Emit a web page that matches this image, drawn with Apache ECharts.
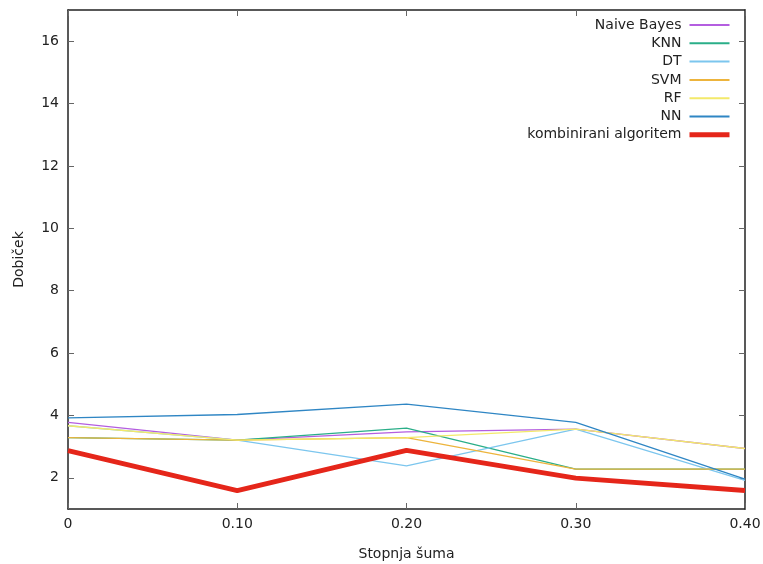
<!DOCTYPE html>
<html>
<head>
<meta charset="utf-8">
<script src="https://cdn.jsdelivr.net/npm/echarts@6/dist/echarts.min.js"></script>
<style>
html,body{margin:0;padding:0;background:#fff;}
#chart{width:763px;height:564px;}
</style>
</head>
<body>
<div id="chart"></div>
<script>
const xValues = [0, 0.1, 0.2, 0.3, 0.4];
const seriesNames = ['Naive Bayes', 'KNN', 'DT', 'SVM', 'RF', 'NN', 'kombinirani algoritem'];
const naiveBayes = [3.78, 3.21, 3.47, 3.56, 2.94];
const knn = [3.29, 3.21, 3.59, 2.28, 2.28];
const dt = [3.67, 3.21, 2.38, 3.56, 1.92];
const svm = [3.29, 3.21, 3.29, 2.28, 2.28];
const rf = [3.67, 3.21, 3.29, 3.56, 2.94];
const nn = [3.92, 4.03, 4.36, 3.78, 1.96];
const kombinirani = [2.87, 1.59, 2.88, 1.99, 1.59];
const yTicks = [2, 4, 6, 8, 10, 12, 14, 16];
const xTicks = [0, 0.1, 0.2, 0.3, 0.4];

const allData = [naiveBayes, knn, dt, svm, rf, nn, kombinirani];
const colors = ['#b45ee0', '#2aae88', '#7cc6ee', '#edb43c', '#f3e96a', '#2f86c4', '#e5261a'];
const widths = [1.3, 1.3, 1.3, 1.3, 1.3, 1.3, 5];
const legendWidths = [2, 2, 2, 2, 2, 2, 5];

const font = 'DejaVu Sans';
const fs = 14;
const series = allData.map((vals, i) => ({
  name: seriesNames[i],
  type: 'line',
  data: xValues.map((x, j) => [x, vals[j]]),
  showSymbol: false,
  symbol: 'none',
  lineStyle: { color: colors[i], width: widths[i] },
  itemStyle: { color: colors[i] },
  z: 2 + i,
  animation: false
}));

const chart = echarts.init(document.getElementById('chart'));
chart.setOption({
  animation: false,
  backgroundColor: '#fff',
  textStyle: { fontFamily: font },
  grid: { left: 68, right: 18, top: 10, bottom: 55, containLabel: false, outerBoundsMode: 'none' },
  legend: {
    data: seriesNames.map((n, i) => ({ name: n, lineStyle: { width: legendWidths[i], color: colors[i] } })),
    orient: 'vertical',
    right: 31,
    top: 18,
    padding: 0,
    align: 'right',
    itemWidth: 40,
    itemHeight: 14,
    itemGap: 4.3,
    itemStyle: { opacity: 0 },
    textStyle: { fontFamily: font, fontSize: fs, color: '#222', padding: [0, 3, 0, 0] }
  },
  xAxis: [{
    type: 'value', min: 0, max: 0.4, interval: 0.1,
    position: 'bottom',
    name: 'Stopnja šuma', nameLocation: 'middle', nameGap: 38,
    nameTextStyle: { fontFamily: font, fontSize: fs, color: '#222' },
    axisLine: { show: true, onZero: false, lineStyle: { color: '#222', width: 1.5 } },
    axisTick: { show: true, inside: true, length: 6, lineStyle: { color: '#666' } },
    axisLabel: { margin: 8, fontFamily: font, fontSize: fs, color: '#222',
      formatter: v => (v === 0 ? '0' : v.toFixed(2)) },
    splitLine: { show: false }
  }, {
    type: 'value', min: 0, max: 0.4, interval: 0.1,
    position: 'top',
    axisLine: { show: true, onZero: false, lineStyle: { color: '#222', width: 1.5 } },
    axisTick: { show: true, inside: true, length: 6, lineStyle: { color: '#666' } },
    axisLabel: { show: false },
    splitLine: { show: false }
  }],
  yAxis: [{
    type: 'value', min: 1, max: 17,
    position: 'left',
    name: 'Dobiček', nameLocation: 'middle', nameGap: 42,
    nameTextStyle: { fontFamily: font, fontSize: fs, color: '#222' },
    axisLine: { show: true, onZero: false, lineStyle: { color: '#222', width: 1.5 } },
    axisTick: { show: true, inside: true, length: 6, customValues: yTicks, lineStyle: { color: '#666' } },
    axisLabel: { margin: 9, fontFamily: font, fontSize: fs, color: '#222', customValues: yTicks },
    splitLine: { show: false }
  }, {
    type: 'value', min: 1, max: 17,
    position: 'right',
    axisLine: { show: true, onZero: false, lineStyle: { color: '#222', width: 1.5 } },
    axisTick: { show: true, inside: true, length: 6, customValues: yTicks, lineStyle: { color: '#666' } },
    axisLabel: { show: false, customValues: yTicks },
    splitLine: { show: false }
  }],
  series: series
});
</script>
</body>
</html>
